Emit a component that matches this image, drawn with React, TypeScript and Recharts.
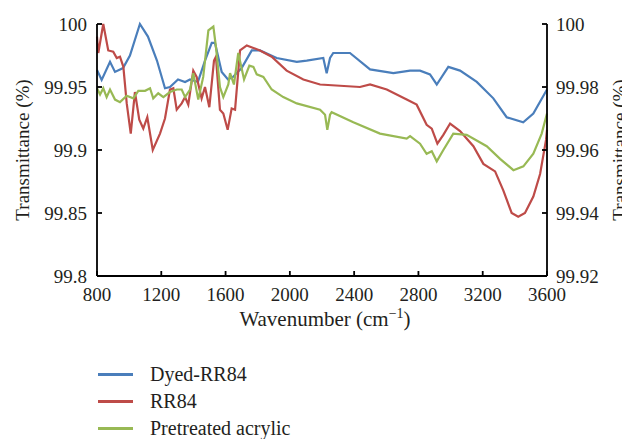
import React from 'react';
import { LineChart, Line, XAxis, YAxis, Label } from 'recharts';

// wavenumber (cm-1) / transmittance (%) pairs
const dyedWave = [800, 829, 881, 912, 962, 1005, 1067, 1117, 1173, 1223, 1254, 1304, 1348, 1379, 1428, 1472, 1514, 1534, 1576, 1615, 1646, 1700, 1763, 1814, 1918, 2043, 2105, 2208, 2229, 2250, 2270, 2374, 2499, 2644, 2748, 2810, 2872, 2914, 2986, 3059, 3163, 3266, 3349, 3452, 3515, 3600];
const dyedT = [99.9635, 99.9556, 99.970, 99.962, 99.965, 99.975, 100.0, 99.990, 99.971, 99.949, 99.950, 99.956, 99.954, 99.956, 99.954, 99.971, 99.985, 99.985, 99.962, 99.956, 99.958, 99.965, 99.979, 99.979, 99.973, 99.970, 99.971, 99.973, 99.961, 99.973, 99.977, 99.977, 99.964, 99.961, 99.963, 99.963, 99.960, 99.952, 99.966, 99.963, 99.954, 99.941, 99.926, 99.922, 99.929, 99.948];

const rr84Wave = [800, 808, 839, 870, 901, 923, 943, 964, 985, 1010, 1036, 1063, 1088, 1113, 1147, 1192, 1223, 1254, 1275, 1296, 1327, 1348, 1368, 1399, 1420, 1451, 1472, 1499, 1528, 1540, 1565, 1586, 1613, 1638, 1659, 1690, 1732, 1773, 1814, 1887, 1980, 2084, 2188, 2436, 2499, 2603, 2727, 2789, 2851, 2883, 2918, 2955, 2997, 3059, 3142, 3204, 3277, 3328, 3380, 3421, 3463, 3515, 3557, 3594, 3600];
const rr84T = [99.990, 99.977, 100.0, 99.979, 99.978, 99.973, 99.974, 99.966, 99.937, 99.913, 99.946, 99.924, 99.917, 99.926, 99.900, 99.913, 99.925, 99.948, 99.949, 99.932, 99.937, 99.942, 99.936, 99.963, 99.958, 99.941, 99.950, 99.934, 99.971, 99.974, 99.932, 99.929, 99.916, 99.933, 99.932, 99.979, 99.983, 99.981, 99.979, 99.974, 99.963, 99.956, 99.952, 99.950, 99.952, 99.948, 99.940, 99.936, 99.920, 99.917, 99.905, 99.912, 99.921, 99.915, 99.903, 99.889, 99.883, 99.868, 99.850, 99.847, 99.850, 99.863, 99.881, 99.908, 99.916];

const acrylicWave = [800, 819, 839, 860, 881, 912, 943, 985, 1026, 1057, 1099, 1130, 1150, 1181, 1213, 1254, 1296, 1327, 1348, 1379, 1399, 1430, 1461, 1493, 1524, 1540, 1565, 1586, 1617, 1628, 1652, 1679, 1715, 1748, 1773, 1794, 1835, 1887, 1959, 2043, 2188, 2219, 2233, 2250, 2260, 2395, 2561, 2727, 2748, 2810, 2851, 2883, 2914, 2955, 3017, 3100, 3225, 3308, 3391, 3453, 3515, 3567, 3600];
const acrylicT = [99.949, 99.944, 99.949, 99.942, 99.948, 99.940, 99.938, 99.943, 99.941, 99.947, 99.947, 99.949, 99.941, 99.945, 99.942, 99.946, 99.948, 99.948, 99.942, 99.948, 99.961, 99.940, 99.958, 99.995, 99.998, 99.982, 99.950, 99.942, 99.952, 99.961, 99.952, 99.977, 99.956, 99.967, 99.966, 99.960, 99.958, 99.948, 99.942, 99.937, 99.932, 99.928, 99.916, 99.928, 99.930, 99.922, 99.913, 99.909, 99.911, 99.905, 99.897, 99.899, 99.891, 99.900, 99.913, 99.912, 99.903, 99.893, 99.884, 99.887, 99.897, 99.913, 99.929];

const xTicks = [800, 1200, 1600, 2000, 2400, 2800, 3200, 3600];
const leftTicks = [99.8, 99.85, 99.9, 99.95, 100];
const rightTicks = [99.92, 99.94, 99.96, 99.98, 100];

const toPoints = (wave: number[], t: number[]) => wave.map((w, i) => ({ wave: w, t: t[i] }));

const SERIES = [
  { name: 'Dyed-RR84', color: '#4a7ebb', data: toPoints(dyedWave, dyedT) },
  { name: 'RR84', color: '#be4b48', data: toPoints(rr84Wave, rr84T) },
  { name: 'Pretreated acrylic', color: '#98b954', data: toPoints(acrylicWave, acrylicT) },
];

const FONT = '"Liberation Serif", "DejaVu Serif", serif';
const TEXT = '#231f20';
const tickStyle = { fontFamily: FONT, fontSize: 19, fill: TEXT };

const XLabel = ({ viewBox }: any) => (
  <text x={viewBox.x + viewBox.width / 2 + 3} y={318} textAnchor="middle" fontFamily={FONT} fontSize={21} fill={TEXT}>
    Wavenumber (cm
    <tspan dy={-8} fontSize={14}>−1</tspan>
    <tspan dy={8}>)</tspan>
  </text>
);

const App: React.FC = () => {
  return (
    <div style={{ width: 614, fontFamily: FONT }}>
      {/* svg runs 8px past the body box so the right-hand title isn't clipped */}
      <LineChart width={622} height={328} margin={{ top: 16, right: 8, left: 9, bottom: 0 }}>
        <XAxis
          dataKey="wave"
          type="number"
          domain={[800, 3600]}
          ticks={xTicks}
          height={60}
          stroke="#000"
          strokeWidth={1.8}
          tickSize={-5}
          tickMargin={17}
          tick={tickStyle}
          label={<XLabel />}
        />
        <YAxis
          yAxisId="left"
          type="number"
          domain={[99.8, 100]}
          ticks={leftTicks}
          width={80}
          stroke="#000"
          strokeWidth={1.8}
          tickSize={-5}
          tickMargin={15}
          tick={tickStyle}
        >
          <Label value="Transmittance (%)" angle={-90} position="insideLeft" offset={5} style={{ textAnchor: 'middle', fontFamily: FONT, fontSize: 19, fill: TEXT }} />
        </YAxis>
        <YAxis
          yAxisId="right"
          orientation="right"
          type="number"
          domain={[99.92, 100]}
          allowDataOverflow
          ticks={rightTicks}
          width={75}
          stroke="#000"
          strokeWidth={1.8}
          tickSize={-5}
          tickMargin={14}
          tick={tickStyle}
        >
          <Label value="Transmittance (%)" angle={-90} position="insideRight" offset={3} style={{ textAnchor: 'middle', fontFamily: FONT, fontSize: 19, fill: TEXT }} />
        </YAxis>
        {SERIES.map(s => (
          <Line
            key={s.name}
            yAxisId="left"
            data={s.data}
            dataKey="t"
            name={s.name}
            type="linear"
            stroke={s.color}
            strokeWidth={2.2}
            dot={false}
            isAnimationActive={false}
          />
        ))}
        {/* invisible series so the secondary axis gets drawn */}
        <Line
          yAxisId="right"
          data={SERIES[0].data}
          dataKey="t"
          stroke="none"
          dot={false}
          activeDot={false}
          legendType="none"
          isAnimationActive={false}
        />
      </LineChart>

      {/* legend sits under the plot, like the original */}
      <div style={{ marginTop: 25, marginLeft: 90 }}>
        {SERIES.map(s => (
          <div key={s.name} style={{ display: 'flex', alignItems: 'center', height: 27 }}>
            <div style={{ width: 35, height: 2.5, background: s.color, marginRight: 17 }} />
            <span style={{ fontSize: 20, color: TEXT }}>{s.name}</span>
          </div>
        ))}
      </div>
    </div>
  );
};

export default App;
